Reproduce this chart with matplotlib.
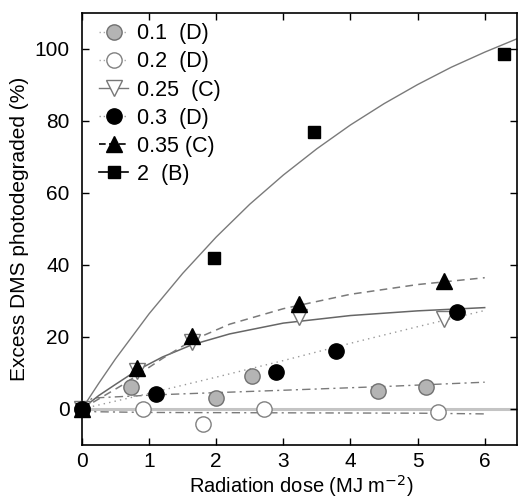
import matplotlib
matplotlib.use("Agg")
import matplotlib.pyplot as plt
from matplotlib.lines import Line2D

plt.rcParams["font.family"] = ["Liberation Sans", "DejaVu Sans"]

# ── measured points (radiation dose MJ m-2, excess DMS photodegraded %) ──────
x_01 = [0, 0.73, 1.99, 2.53, 4.41, 5.13]
y_01 = [0, 6.2, 3.0, 9.0, 5.0, 6.2]
x_02 = [0, 0.91, 1.80, 2.71, 5.31]
y_02 = [0, 0.0, -4.2, 0.0, -0.9]
x_025 = [0, 0.82, 1.64, 3.24, 5.40]
y_025 = [0, 10.5, 18.5, 25.6, 25.0]
x_03 = [0, 1.10, 2.89, 3.78, 5.58]
y_03 = [0, 4.2, 10.2, 16.0, 26.9]
x_035 = [0, 0.82, 1.64, 3.24, 5.40]
y_035 = [0, 11.3, 20.3, 29.2, 35.4]
x_2 = [0, 1.96, 3.45, 6.29]
y_2 = [0, 41.9, 76.9, 98.6]

# ── fitted curves ────────────────────────────────────────────────────────────
fx_01 = [0, 0.15, 1.12, 2.0, 3.05, 4.63, 6.0]
fy_01 = [0, 3.0, 3.9, 4.5, 5.2, 6.3, 7.4]
fx_02 = [0, 0.2, 1.0, 3.0, 5.0, 6.0]
fy_02 = [0, -0.8, -1.0, -1.1, -1.2, -1.4]
fx_025 = [0, 0.25, 0.5, 0.82, 1.2, 1.64, 2.2, 3.0, 4.0, 5.0, 6.0]
fy_025 = [0, 3.7, 6.8, 10.7, 14.4, 17.8, 20.8, 23.8, 25.9, 27.2, 28.1]
fx_03 = [0, 1, 2, 3, 4, 5, 6]
fy_03 = [0, 4.3, 8.8, 13.4, 18.2, 22.8, 27.3]
fx_035 = [0, 0.3, 0.6, 0.82, 1.2, 1.64, 2.2, 3.0, 4.0, 5.0, 6.0]
fy_035 = [0, 3.3, 6.6, 9.3, 14.0, 19.0, 23.5, 27.8, 31.8, 34.5, 36.4]
fx_2 = [0, 0.25, 0.5, 1.0, 1.5, 2.0, 2.5, 3.0, 3.5, 4.0, 4.5, 5.0, 5.5, 6.0, 6.48]
fy_2 = [0, 7.1, 13.9, 26.4, 37.6, 47.7, 56.8, 64.9, 72.2, 78.8, 84.7, 90.0, 94.8, 99.0, 102.7]

labels = ["0.1  (D)", "0.2  (D)", "0.25  (C)", "0.3  (D)", "0.35 (C)", "2  (B)"]
xticks = [0, 1, 2, 3, 4, 5, 6]
yticks = [0, 20, 40, 60, 80, 100]

fig = plt.figure(figsize=(5.19, 5.01), dpi=100)
ax = fig.add_axes([0.158, 0.112, 0.838, 0.863])

GRAY = "#7a7a7a"

# zero line
ax.axhline(0, color="#c4c4c4", lw=2.2, zorder=1)

# fit curves
ax.plot(fx_01, fy_01, color=GRAY, lw=1.0, ls=(0, (6, 3, 1.5, 3)), zorder=2)
ax.plot(fx_02, fy_02, color=GRAY, lw=1.0, ls=(0, (6, 3, 1.5, 3)), zorder=2)
ax.plot(fx_025, fy_025, color="#666666", lw=1.1, ls="-", zorder=2)
ax.plot(fx_03, fy_03, color="#999999", lw=1.0, ls=(0, (1, 3)), zorder=2)
ax.plot(fx_035, fy_035, color=GRAY, lw=1.1, ls=(0, (5, 3.5)), zorder=2)
ax.plot(fx_2, fy_2, color=GRAY, lw=1.0, ls="-", zorder=2)

# data markers
kw = dict(ls="none", clip_on=False, zorder=3)
ax.plot(x_01, y_01, marker="o", ms=11, mfc="#b4b4b4", mec="#707070", mew=1.0, **kw)
ax.plot(x_02, y_02, marker="o", ms=11, mfc="white", mec="#808080", mew=1.0, **kw)
ax.plot(x_025, y_025, marker="v", ms=12, mfc="white", mec="#777777", mew=1.0, **kw)
ax.plot(x_03, y_03, marker="o", ms=11, mfc="black", mec="black", **kw)
ax.plot(x_035, y_035, marker="^", ms=12, mfc="black", mec="black", **kw)
ax.plot(x_2, y_2, marker="s", ms=8.5, mfc="black", mec="black", **kw)

handles = [
    Line2D([], [], color="#aaaaaa", lw=1.0, ls=(0, (1, 2)), marker="o", ms=11,
           mfc="#b4b4b4", mec="#707070"),
    Line2D([], [], color="#aaaaaa", lw=1.0, ls=(0, (1, 2)), marker="o", ms=11,
           mfc="white", mec="#808080"),
    Line2D([], [], color="#777777", lw=1.0, ls="-", marker="v", ms=12,
           mfc="white", mec="#777777"),
    Line2D([], [], color="#999999", lw=1.0, ls=(0, (1, 2)), marker="o", ms=11,
           mfc="black", mec="black"),
    Line2D([], [], color="black", lw=1.2, ls=(0, (4, 2)), marker="^", ms=12,
           mfc="black", mec="black"),
    Line2D([], [], color="black", lw=1.2, ls="-", marker="s", ms=8.5,
           mfc="black", mec="black"),
]
ax.legend(handles, labels, loc="upper left", frameon=False, fontsize=15.5,
          handlelength=1.35, handletextpad=0.4, labelspacing=0.33,
          borderaxespad=0.0, bbox_to_anchor=(0.02, 0.995))

ax.set_xlim(0, 6.48)
ax.set_ylim(-10, 110)
ax.set_xticks(xticks)
ax.set_yticks(yticks)
ax.tick_params(direction="in", length=5, width=1, top=True, right=True,
               labelsize=15)
ax.tick_params(axis="y", pad=9)
ax.tick_params(axis="x", pad=5)
for s in ax.spines.values():
    s.set_linewidth(1.2)

ax.set_xlabel("Radiation dose (MJ m$^{-2}$)", fontsize=14.5)
ax.xaxis.set_label_coords(0.505, -0.066)
ax.set_ylabel("Excess DMS photodegraded (%)", fontsize=15, labelpad=4)

fig.savefig("out.png", dpi=100)
